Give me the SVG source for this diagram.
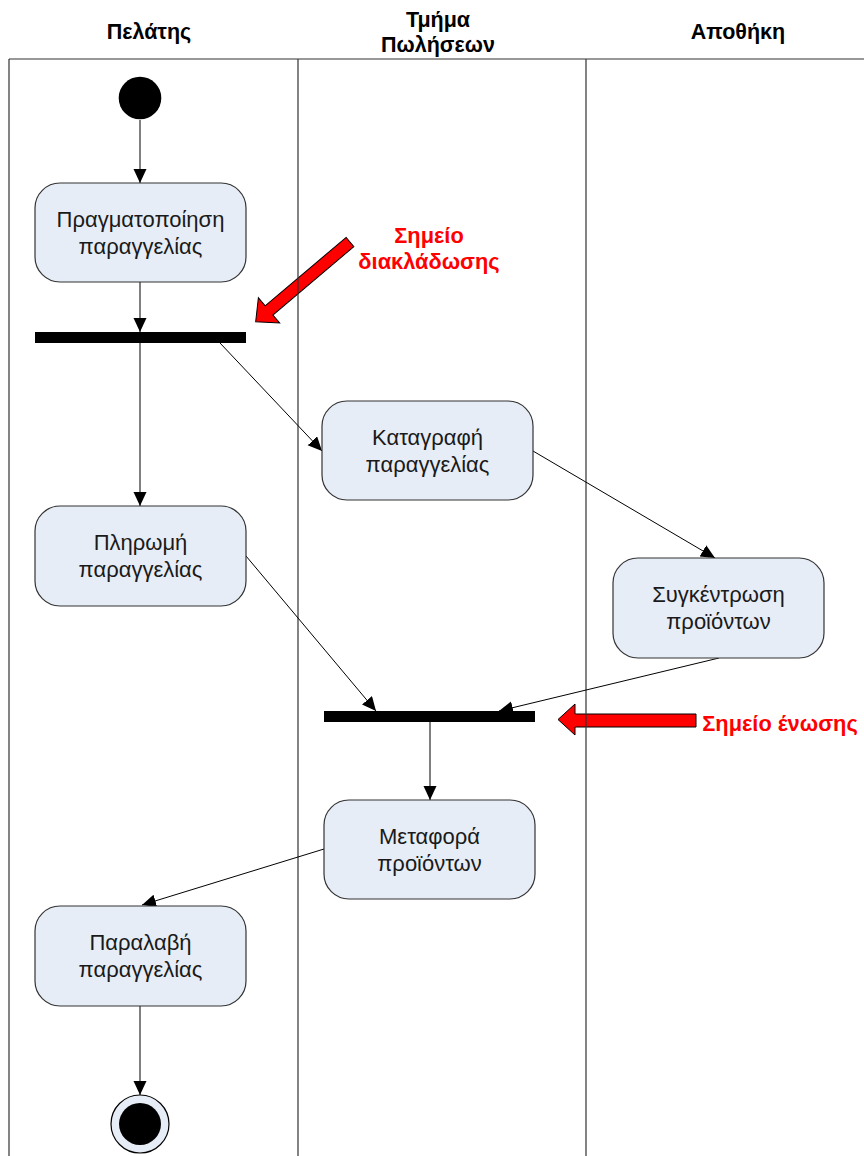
<svg xmlns="http://www.w3.org/2000/svg" width="864" height="1156" viewBox="0 0 864 1156">
<style>
.hdr{font-family:"Liberation Sans",Arial,sans-serif;font-weight:bold;font-size:21.5px;fill:#000;text-anchor:middle}
.lbl{font-family:"Liberation Sans",Arial,sans-serif;font-size:22px;fill:#1a1a1a;text-anchor:middle}
.note{font-family:"Liberation Sans",Arial,sans-serif;font-weight:bold;font-size:21.8px;fill:#ff0000;text-anchor:middle}
.box{fill:#e7edf7;stroke:#333;stroke-width:1.2}
.bar{fill:#000}
.conn{stroke:#000;stroke-width:1;fill:none;marker-end:url(#ah)}
.lane{stroke:#333;stroke-width:1.2;fill:none}
.red{fill:#ff0000;stroke:#000;stroke-width:1}
</style>
<defs>
<marker id="ah" markerUnits="userSpaceOnUse" markerWidth="15" markerHeight="14" refX="14" refY="6.5" orient="auto">
<path d="M0,0 L14,6.5 L0,13 Z" fill="#000"/>
</marker>
</defs>
<rect width="864" height="1156" fill="#fff"/>

<g id="annotations">
<polygon class="red" transform="translate(350,242) rotate(139.8)" points="0,-6 106,-6 106,-16.5 123.5,0 106,16.5 106,6 0,6"/>
<polygon class="red" points="696,714 575,714 575,704 558,719.5 575,735 575,727 696,727"/>
<text class="note" x="429" y="243">Σημείο</text>
<text class="note" x="429" y="269">διακλάδωσης</text>
<text class="note" x="780" y="731">Σημείο ένωσης</text>
</g>

<g id="lanes">
<path class="lane" d="M9,59 H864 M9,59 V1156 M298,59 V1156 M586,59 V1156"/>
<text class="hdr" x="149" y="39">Πελάτης</text>
<text class="hdr" x="438" y="27">Τμήμα</text>
<text class="hdr" x="438" y="52">Πωλήσεων</text>
<text class="hdr" x="738" y="39">Αποθήκη</text>
</g>

<g id="connectors">
<line class="conn" x1="140" y1="120" x2="140" y2="183"/>
<line class="conn" x1="140" y1="282" x2="140" y2="332"/>
<line class="conn" x1="140" y1="343" x2="140" y2="506"/>
<line class="conn" x1="220" y1="343" x2="322" y2="451"/>
<line class="conn" x1="533" y1="451" x2="715" y2="558"/>
<line class="conn" x1="246" y1="556" x2="376" y2="711"/>
<line class="conn" x1="719" y1="658" x2="499" y2="711"/>
<line class="conn" x1="430" y1="722" x2="430" y2="800"/>
<line class="conn" x1="324" y1="849" x2="142" y2="905"/>
<line class="conn" x1="140" y1="1006" x2="140" y2="1095"/>
</g>

<g id="start"><circle cx="140" cy="98" r="21.3" fill="#000"/></g>

<g id="n1"><rect class="box" x="35" y="183" width="211" height="99" rx="25"/>
<text class="lbl" x="140.5" y="227">Πραγματοποίηση</text>
<text class="lbl" x="140.5" y="254">παραγγελίας</text></g>

<g id="fork"><rect class="bar" x="35" y="332" width="211" height="11"/></g>

<g id="n2"><rect class="box" x="35" y="506" width="211" height="100" rx="25"/>
<text class="lbl" x="140.5" y="550">Πληρωμή</text>
<text class="lbl" x="140.5" y="577">παραγγελίας</text></g>

<g id="n3"><rect class="box" x="322" y="401" width="211" height="99" rx="25"/>
<text class="lbl" x="427.5" y="445">Καταγραφή</text>
<text class="lbl" x="427.5" y="472">παραγγελίας</text></g>

<g id="n4"><rect class="box" x="613" y="558" width="211" height="100" rx="25"/>
<text class="lbl" x="718.5" y="602">Συγκέντρωση</text>
<text class="lbl" x="718.5" y="629">προϊόντων</text></g>

<g id="join"><rect class="bar" x="324" y="711" width="211" height="11"/></g>

<g id="n5"><rect class="box" x="324" y="800" width="211" height="99" rx="25"/>
<text class="lbl" x="429.5" y="844">Μεταφορά</text>
<text class="lbl" x="429.5" y="871">προϊόντων</text></g>

<g id="n6"><rect class="box" x="35" y="906" width="211" height="100" rx="25"/>
<text class="lbl" x="140.5" y="950">Παραλαβή</text>
<text class="lbl" x="140.5" y="977">παραγγελίας</text></g>

<g id="end"><circle cx="140" cy="1124" r="29" fill="#e7edf7" stroke="#000" stroke-width="1.2"/>
<circle cx="140" cy="1124" r="21" fill="#000"/></g>
</svg>
